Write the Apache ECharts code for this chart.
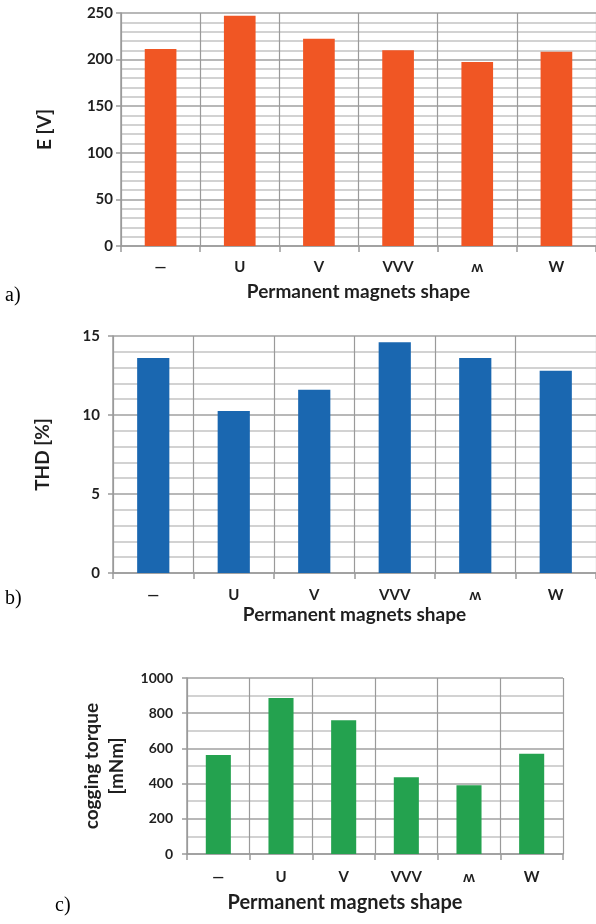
<!DOCTYPE html>
<html>
<head>
<meta charset="utf-8">
<script src="https://cdn.jsdelivr.net/npm/echarts@6/dist/echarts.min.js"></script>
<style>
html,body{margin:0;padding:0;background:#fff;}
#chart{width:596px;height:924px;}
</style>
</head>
<body>
<div id="chart"></div>
<script>
const categories = ['—', 'U', 'V', 'VVV', 'ʍ', 'W'];
const emfValues = [211.5, 247, 222.5, 210, 197.5, 208.5];
const thdValues = [13.6, 10.25, 11.6, 14.6, 13.6, 12.8];
const coggingValues = [562, 887, 760, 436, 391, 570];
const xAxisTitle = 'Permanent magnets shape';
const yTitles = ['E [V]', 'THD [%]', 'cogging torque\n[mNm]'];
const panelLabels = ['a)', 'b)', 'c)'];

const FONT = 'Lato, "Open Sans", sans-serif';
const TXT = '#1f1f1f';
const colors = ['#F05624', '#1A67B0', '#24A24F'];

const grids = [
  {left: 121, top: 13, right: -6, height: 233},
  {left: 113, top: 336, right: -7, height: 237},
  {left: 187, top: 678, right: 33, height: 176}
];
const yCfg = [
  {max: 250, interval: 50, minor: 4, nameGap: 64, labelSize: 15, labelMargin: 8},
  {max: 15, interval: 5, minor: 4, nameGap: 58, labelSize: 15, labelMargin: 13},
  {max: 1000, interval: 200, minor: 1, nameGap: 46, labelSize: 14, labelMargin: 14}
];
const xCfg = [
  {nameGap: 36, labelMargin: 14, nameSize: 19, pad: [0,0,0,0]},
  {nameGap: 32, labelMargin: 15, nameSize: 19, pad: [0,0,0,0]},
  {nameGap: 39, labelMargin: 16, nameSize: 20, pad: [0,60,0,0]}
];
const data = [emfValues, thdValues, coggingValues];

const chart = echarts.init(document.getElementById('chart'), null, {renderer: 'canvas'});
const option = {
  animation: false,
  backgroundColor: '#fff',
  grid: grids.map(g => Object.assign({containLabel: false}, g)),
  xAxis: [0,1,2].map(i => ({
    type: 'category',
    gridIndex: i,
    data: categories,
    boundaryGap: true,
    name: xAxisTitle,
    nameLocation: 'middle',
    nameGap: xCfg[i].nameGap,
    nameTextStyle: {fontFamily: FONT, fontWeight: 'bold', fontSize: xCfg[i].nameSize, color: TXT, padding: xCfg[i].pad},
    axisLine: {show: true, lineStyle: {color: '#9a9a9a', width: 1.5}},
    axisTick: {show: true, alignWithLabel: false, length: 6, lineStyle: {color: '#9a9a9a', width: 1.5}},
    axisLabel: {fontFamily: FONT, fontWeight: 'bold', fontSize: 15, color: TXT, margin: xCfg[i].labelMargin},
    splitLine: {show: true, lineStyle: {color: '#9a9a9a', width: 1.2}}
  })),
  yAxis: [0,1,2].map(i => ({
    type: 'value',
    gridIndex: i,
    min: 0,
    max: yCfg[i].max,
    interval: yCfg[i].interval,
    name: yTitles[i],
    nameLocation: 'middle',
    nameGap: yCfg[i].nameGap,
    nameRotate: 90,
    nameTextStyle: {fontFamily: FONT, fontWeight: 'bold', fontSize: 19, color: TXT, lineHeight: 25},
    axisLine: {show: true, lineStyle: {color: '#9a9a9a', width: 1.5}},
    axisTick: {show: true, length: 5, lineStyle: {color: '#9a9a9a', width: 1.5}},
    axisLabel: {fontFamily: FONT, fontWeight: 'bold', fontSize: yCfg[i].labelSize, color: TXT, margin: yCfg[i].labelMargin, formatter: v => String(v)},
    splitLine: {show: true, lineStyle: {color: '#a0a0a0', width: 1.5}},
    minorTick: {show: false, splitNumber: yCfg[i].minor + 1},
    minorSplitLine: {show: true, lineStyle: {color: '#d2d2d2', width: 2}}
  })),
  series: [0,1,2].map(i => ({
    type: 'bar',
    xAxisIndex: i,
    yAxisIndex: i,
    data: data[i],
    barWidth: '40%',
    itemStyle: {color: colors[i]}
  })),
  graphic: [
    {type: 'text', left: 5, top: 286, style: {text: panelLabels[0], font: '20px "Liberation Serif", serif', fill: '#000'}},
    {type: 'text', left: 5, top: 589, style: {text: panelLabels[1], font: '20px "Liberation Serif", serif', fill: '#000'}},
    {type: 'text', left: 55, top: 896, style: {text: panelLabels[2], font: '20px "Liberation Serif", serif', fill: '#000'}}
  ]
};
chart.setOption(option);
</script>
</body>
</html>
